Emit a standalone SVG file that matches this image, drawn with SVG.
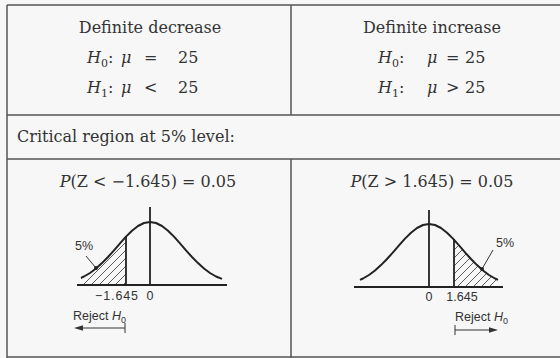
<svg xmlns="http://www.w3.org/2000/svg" width="560" height="358" viewBox="0 0 560 358">
<style>
.rule{stroke:#555;stroke-width:1.5;fill:none}
.serif{font-family:"DejaVu Serif","Liberation Serif",serif;font-size:16px;fill:#333}
.it{font-style:italic}
.sub{font-size:11px}
.sans{font-family:"Liberation Sans",Arial,sans-serif;font-size:12.5px;fill:#333}
.curve{stroke:#222;stroke-width:2;fill:none;stroke-linejoin:round}
.ax{stroke:#222;stroke-width:1.8;fill:none}
.thin{stroke:#333;stroke-width:1;fill:none}
.head{fill:#333}
</style>
<defs>
<pattern id="hatch" patternUnits="userSpaceOnUse" width="8" height="8">
<path d="M-1,9 L9,-1 M-1,1 L1,-1 M7,9 L9,7" stroke="#333" stroke-width="0.8"/>
</pattern>
</defs>
<rect x="0" y="0" width="560" height="358" fill="#f7f7f7"/>
<g id="table">
<path class="rule" d="M7,5 H560 M7,5 V358 M7,357 H560 M7,115 H560 M7,159 H560 M291,5 V115 M291,159 V358"/>
</g>
<g id="cell-decrease">
<text class="serif" x="150" y="33" text-anchor="middle">Definite decrease</text>
<text class="serif" x="87" y="63"><tspan class="it">H</tspan><tspan class="sub" dy="4">0</tspan><tspan dy="-4">:</tspan></text>
<text class="serif it" x="121" y="63">μ</text>
<text class="serif" x="144" y="63">=</text>
<text class="serif" x="178" y="63">25</text>
<text class="serif" x="87" y="93"><tspan class="it">H</tspan><tspan class="sub" dy="4">1</tspan><tspan dy="-4">:</tspan></text>
<text class="serif it" x="121" y="93">μ</text>
<text class="serif" x="144" y="93">&lt;</text>
<text class="serif" x="178" y="93">25</text>
</g>
<g id="cell-increase">
<text class="serif" x="432" y="33" text-anchor="middle">Definite increase</text>
<text class="serif" x="378" y="63"><tspan class="it">H</tspan><tspan class="sub" dy="4">0</tspan><tspan dy="-4">:</tspan></text>
<text class="serif it" x="427" y="63">μ</text>
<text class="serif" x="446" y="63">=</text>
<text class="serif" x="465" y="63">25</text>
<text class="serif" x="378" y="93"><tspan class="it">H</tspan><tspan class="sub" dy="4">1</tspan><tspan dy="-4">:</tspan></text>
<text class="serif it" x="427" y="93">μ</text>
<text class="serif" x="446" y="93">&gt;</text>
<text class="serif" x="465" y="93">25</text>
</g>
<g id="cell-critical">
<text class="serif" x="17" y="142">Critical region at 5% level:</text>
</g>
<g id="cell-left-tail">
<text class="serif" x="148" y="187" text-anchor="middle"><tspan class="it">P</tspan>(Z &lt; −1.645) = 0.05</text>
<path fill="url(#hatch)" d="M81,285 L81,277.9 L84,276.5 L90,273.0 L96,268.5 L102,263.1 L108,257.0 L114,250.3 L120,243.3 L126,236.6 L126,285 Z"/>
<path class="curve" d="M81,277.9 L84,276.5 L90,273.0 L96,268.5 L102,263.1 L108,257.0 L114,250.3 L120,243.3 L126,236.6 L132,230.7 L138,226.0 L144,223.0 L150,222.0 L156,223.0 L162,226.0 L168,230.7 L174,236.6 L180,243.3 L186,250.3 L192,257.0 L198,263.1 L204,268.5 L210,273.0 L216,276.5 L222,278.9"/>
<path class="ax" d="M77,285 H227 M150,207 V285 M126,236 V285"/>
<path class="thin" d="M86,256 L96,268"/>
<circle cx="96" cy="268" r="2" fill="#222"/>
<text class="sans" x="75" y="250">5%</text>
<text class="sans" x="95" y="300" textLength="43" lengthAdjust="spacing">−1.645</text>
<text class="sans" x="150" y="300" text-anchor="middle">0</text>
<text class="sans" x="73" y="320">Reject <tspan font-style="italic">H</tspan><tspan font-size="9" dy="3">0</tspan></text>
<path class="thin" d="M125,328 H80 M125,323 V333"/>
<polygon class="head" points="74,328 83,325.3 83,330.7"/>
</g>
<g id="cell-right-tail">
<text class="serif" x="432" y="187" text-anchor="middle"><tspan class="it">P</tspan>(Z &gt; 1.645) = 0.05</text>
<path fill="url(#hatch)" d="M454,287 L454,239.7 L459,245.3 L465,252.3 L471,259.0 L477,265.1 L483,270.5 L489,275.0 L495,278.5 L498,279.9 L498,287 Z"/>
<path class="curve" d="M360,279.9 L363,278.5 L369,275.0 L375,270.5 L381,265.1 L387,259.0 L393,252.3 L399,245.3 L405,238.6 L411,232.7 L417,228.0 L423,225.0 L429,224.0 L435,225.0 L441,228.0 L447,232.7 L453,238.6 L459,245.3 L465,252.3 L471,259.0 L477,265.1 L483,270.5 L489,275.0 L495,278.5 L498,279.9"/>
<path class="ax" d="M354,287 H503 M429,210 V287 M454,239 V287"/>
<path class="thin" d="M493,250 L482,269"/>
<circle cx="482" cy="269" r="2" fill="#222"/>
<text class="sans" x="496" y="247">5%</text>
<text class="sans" x="429" y="301" text-anchor="middle">0</text>
<text class="sans" x="462" y="301" text-anchor="middle">1.645</text>
<text class="sans" x="455" y="321">Reject <tspan font-style="italic">H</tspan><tspan font-size="9" dy="3">0</tspan></text>
<path class="thin" d="M455,330 H492 M455,325 V335"/>
<polygon class="head" points="498,330 489,327.3 489,332.7"/>
</g>
</svg>
